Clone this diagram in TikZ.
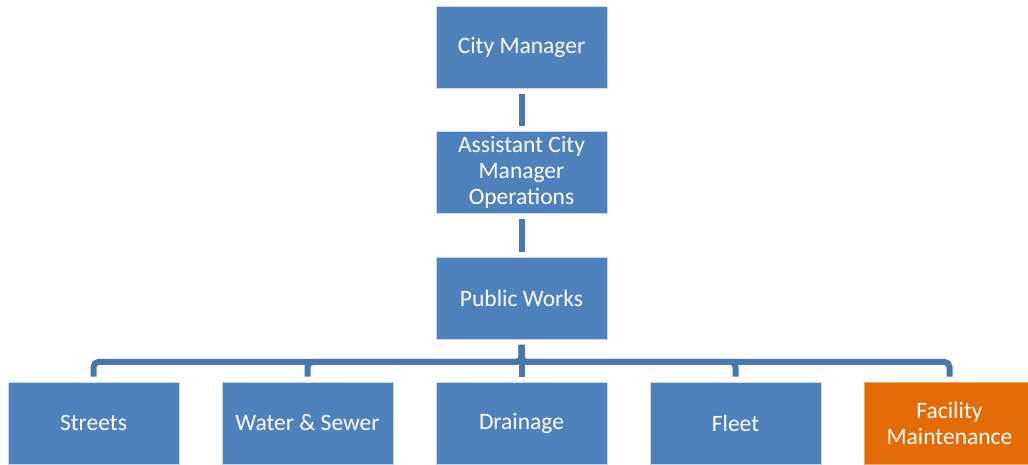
\documentclass[tikz,border=0pt]{standalone}
\usepackage{fontspec}
\setmainfont{Carlito}
\definecolor{boxblue}{HTML}{4F81BD}
\definecolor{boxorange}{HTML}{E36C09}
\definecolor{linkblue}{HTML}{4A76AE}
\definecolor{edgelight}{HTML}{C9D7EA}
\begin{document}
\begin{tikzpicture}[x=1pt,y=-1pt,
  orgbox/.style={rectangle, fill=boxblue, draw=edgelight, line width=0.8pt,
    minimum width=171pt, minimum height=82pt, inner sep=0pt,
    text=white, align=center,
    font=\fontsize{23.5}{26}\selectfont},
  hlbox/.style={orgbox, fill=boxorange, draw=boxorange!60!white},
  link/.style={draw=linkblue, line width=6pt, shorten <=5.5pt, shorten >=5pt},
  branch/.style={link, rounded corners=5pt}]
\useasboundingbox (0,0) rectangle (1028,464);
\node[orgbox] (cm) at (521.5,47) {City Manager};
\node[orgbox] (acm) at (521.5,172) {Assistant City\\Manager\\Operations};
\node[orgbox] (pw) at (521.5,298) {Public Works};
\node[orgbox] (st) at (93.5,423) {Streets};
\node[orgbox] (ws) at (307.5,423) {Water \& Sewer};
\node[orgbox] (dr) at (521.5,423) {Drainage};
\node[orgbox] (fl) at (735.5,423) {Fleet};
\node[hlbox] (fm) at (949.5,423) {Facility\\Maintenance};
\draw[link] (cm.south) -- (acm.north);
\draw[link] (acm.south) -- (pw.north);
\draw[link] (pw.south) -- (dr.north);
\draw[branch] (pw.south) -- ++(0,22.5) -| (st.north);
\draw[branch] (pw.south) -- ++(0,22.5) -| (ws.north);
\draw[branch] (pw.south) -- ++(0,22.5) -| (fl.north);
\draw[branch] (pw.south) -- ++(0,22.5) -| (fm.north);
\end{tikzpicture}
\end{document}
